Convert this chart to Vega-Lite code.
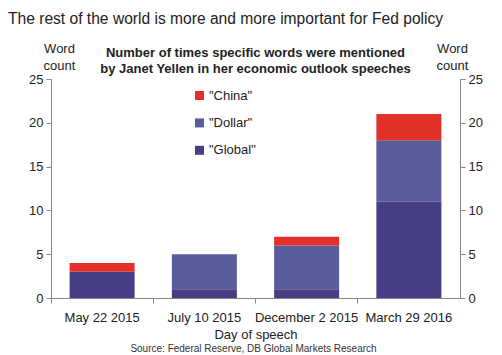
{
  "$schema": "https://vega.github.io/schema/vega-lite/v6.json",
  "width": 409,
  "height": 219,
  "autosize": {"type": "none"},
  "padding": {"left": 51, "top": 79, "right": 42, "bottom": 57},
  "background": "white",
  "config": {
    "font": "Liberation Sans",
    "view": {"stroke": null},
    "axis": {"labelFont": "Liberation Sans", "titleFont": "Liberation Sans", "labelColor": "#222", "titleColor": "#222", "domainColor": "#888", "tickColor": "#888", "labelFontSize": 13, "titleFontSize": 13, "titleFontWeight": "normal", "grid": false}
  },
  "title": {
    "text": "The rest of the world is more and more important for Fed policy",
    "anchor": "start",
    "frame": "group",
    "dx": -43,
    "offset": 14,
    "fontSize": 15.6,
    "fontWeight": "normal",
    "color": "#222",
    "font": "Liberation Sans"
  },
  "datasets": {
    "words": [
      {"day": "May 22 2015", "word": "\"Global\"", "count": 3},
      {"day": "May 22 2015", "word": "\"Dollar\"", "count": 0},
      {"day": "May 22 2015", "word": "\"China\"", "count": 1},
      {"day": "July 10 2015", "word": "\"Global\"", "count": 1},
      {"day": "July 10 2015", "word": "\"Dollar\"", "count": 4},
      {"day": "July 10 2015", "word": "\"China\"", "count": 0},
      {"day": "December 2 2015", "word": "\"Global\"", "count": 1},
      {"day": "December 2 2015", "word": "\"Dollar\"", "count": 5},
      {"day": "December 2 2015", "word": "\"China\"", "count": 1},
      {"day": "March 29 2016", "word": "\"Global\"", "count": 11},
      {"day": "March 29 2016", "word": "\"Dollar\"", "count": 7},
      {"day": "March 29 2016", "word": "\"China\"", "count": 3}
    ]
  },
  "layer": [
    {
      "data": {"name": "words"},
      "mark": {"type": "bar", "width": {"band": 0.636}},
      "encoding": {
        "x": {
          "field": "day", "type": "nominal",
          "sort": ["May 22 2015", "July 10 2015", "December 2 2015", "March 29 2016"],
          "scale": {"paddingInner": 0, "paddingOuter": 0},
          "axis": {"title": "Day of speech", "labelAngle": 0, "bandPosition": 0, "tickSize": 5, "labelPadding": 8, "titlePadding": 4}
        },
        "y": {
          "field": "count", "type": "quantitative", "stack": "zero",
          "scale": {"domain": [0, 25], "nice": false},
          "axis": {"values": [0, 5, 10, 15, 20, 25], "tickSize": 5, "labelPadding": 3, "title": ["Word", "count"], "titleAngle": 0, "titleAlign": "center", "titleBaseline": "bottom", "titleX": 8, "titleY": -24, "titleLineHeight": 17}
        },
        "color": {
          "field": "word", "type": "nominal",
          "scale": {"domain": ["\"China\"", "\"Dollar\"", "\"Global\""], "range": ["#e3302a", "#5a5d9b", "#463f86"]},
          "legend": {"title": null, "orient": "none", "legendX": 142, "legendY": 10, "symbolType": "square", "symbolSize": 81, "symbolStrokeWidth": 0, "labelFontSize": 13, "labelColor": "#222", "labelFont": "Liberation Sans", "labelOffset": 3, "rowPadding": 13.4, "padding": 0}
        },
        "order": {"field": "word", "sort": "descending"}
      }
    },
    {
      "data": {"values": [{"v": 0}]},
      "mark": {"type": "rule", "strokeOpacity": 0},
      "encoding": {
        "y": {
          "field": "v", "type": "quantitative",
          "axis": {"orient": "right", "values": [0, 5, 10, 15, 20, 25], "tickSize": 5, "labelPadding": 3, "title": ["Word", "count"], "titleAngle": 0, "titleAlign": "center", "titleBaseline": "bottom", "titleX": -8, "titleY": -24, "titleLineHeight": 17}
        }
      }
    },
    {
      "data": {"values": [{"t": "Number of times specific words were mentioned\nby Janet Yellen in her economic outlook speeches", "yv": 28.6}]},
      "mark": {"type": "text", "lineBreak": "\n", "fontWeight": "bold", "fontSize": 13, "lineHeight": 16, "baseline": "top", "align": "center", "color": "#222", "font": "Liberation Sans"},
      "encoding": {
        "text": {"field": "t"},
        "y": {"field": "yv", "type": "quantitative", "axis": null}
      }
    },
    {
      "data": {"values": [{"t": "Source: Federal Reserve, DB Global Markets Research", "yv": -5.85}]},
      "mark": {"type": "text", "fontSize": 10, "baseline": "middle", "align": "center", "color": "#333", "font": "Liberation Sans", "dx": -2},
      "encoding": {
        "text": {"field": "t"},
        "y": {"field": "yv", "type": "quantitative", "axis": null}
      }
    }
  ],
  "resolve": {"axis": {"y": "independent"}}
}
